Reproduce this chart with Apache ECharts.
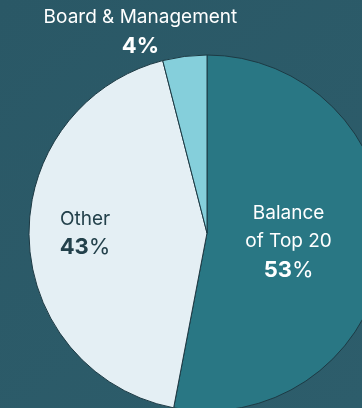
<!DOCTYPE html>
<html>
<head>
<meta charset="utf-8">
<script src="https://cdn.jsdelivr.net/npm/echarts@6/dist/echarts.min.js"></script>
<style>
  html, body { margin: 0; padding: 0; background: #2b5a68; }
  #chart { width: 362px; height: 408px; }
</style>
</head>
<body>
<div id="chart"></div>
<script>
// Ownership split
const categories = ['Balance of Top 20', 'Other', 'Board & Management'];
const shares = [53, 43, 4];
const labelNames = ['Balance\nof Top 20', 'Other', 'Board & Management'];

const sliceColors = ['#297784', '#e4eff4', '#85cfdb'];
const textColors = ['#ffffff', '#23414b', '#ffffff'];
// label nudges from the default inside position
const labelShift = [[-10, 1], [-30, -2], [-55, -109]];

const chart = echarts.init(document.getElementById('chart'), null, { renderer: 'canvas' });

const FONT = 'Inter, "Noto Sans", sans-serif';

const data = categories.map((name, i) => ({
  name: name,
  value: shares[i],
  itemStyle: { color: sliceColors[i] },
  label: {
    color: textColors[i],
    rich: {
      n: { fontFamily: FONT, fontSize: 19, color: textColors[i], lineHeight: 28, align: 'center' },
      b: { fontFamily: FONT, fontSize: 22, fontWeight: 'bold', color: textColors[i], lineHeight: 30 },
      p: { fontFamily: FONT, fontSize: 22, fontWeight: i === 2 ? 'bold' : 'normal', color: textColors[i], lineHeight: 30 }
    }
  }
}));

chart.setOption({
  backgroundColor: {
    type: 'linear', x: 0, y: 0, x2: 1, y2: 1,
    colorStops: [{ offset: 0, color: '#2a5866' }, { offset: 1, color: '#2d5d6b' }]
  },
  animation: false,
  series: [{
    type: 'pie',
    center: [207, 233],
    radius: 178,
    startAngle: 90,
    clockwise: true,
    itemStyle: { borderColor: '#1d3a44', borderWidth: 1 },
    label: {
      show: true,
      position: 'inside',
      align: 'center',
      formatter: (p) => '{n|' + labelNames[p.dataIndex].split('\n').join('}\n{n|') + '}\n{b|' + p.value + '}{p|%}'
    },
    labelLine: { show: false },
    labelLayout: (params) => ({ dx: labelShift[params.dataIndex][0], dy: labelShift[params.dataIndex][1] }),
    emphasis: { disabled: true },
    data: data
  }]
});
</script>
</body>
</html>
